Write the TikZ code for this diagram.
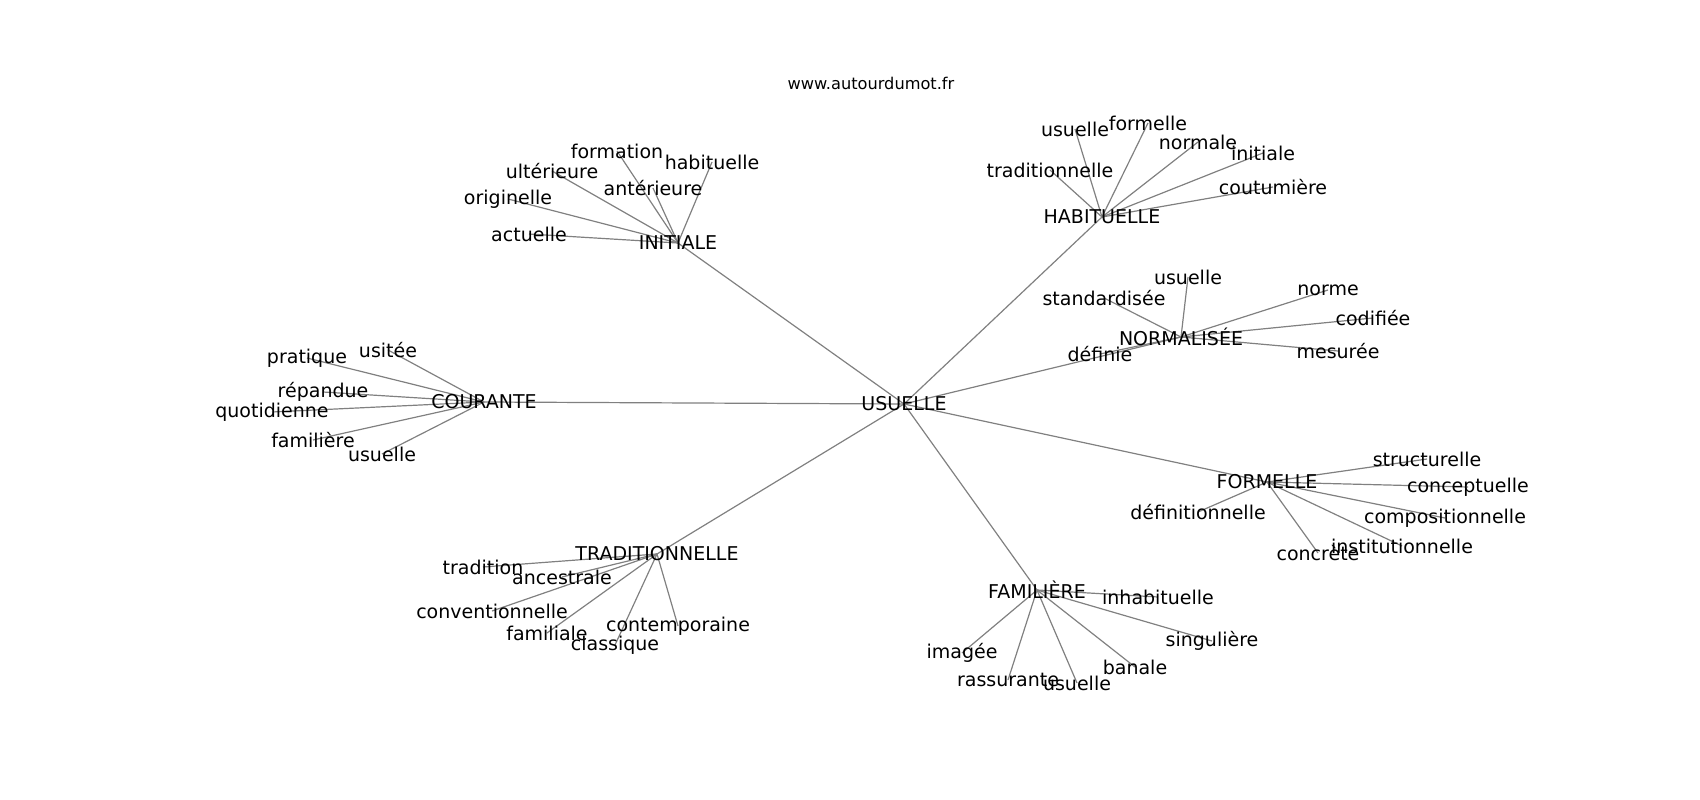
\documentclass[tikz,border=0pt]{standalone}
\usepackage{fontspec}
\setmainfont{DejaVu Sans}
\usetikzlibrary{backgrounds}
\tikzset{
  lbl/.style={inner sep=0pt, font=\fontsize{19}{21}\selectfont, text=black},
  ttl/.style={inner sep=0pt, font=\fontsize{16.2}{18}\selectfont, text=black},
  edge/.style={draw=gray, line width=1.2pt}
}
\begin{document}
\begin{tikzpicture}[x=1pt,y=-1pt]
\useasboundingbox (0,0) rectangle (1700,800);
% hubs
\node[lbl] (usuelle) at (904,404) {USUELLE};
\node[lbl] (initiale) at (678,243) {INITIALE};
\node[lbl] (habituelle) at (1102,217) {HABITUELLE};
\node[lbl] (normalisee) at (1181,337) {NORMALISÉE};
\node[lbl] (courante) at (484,402) {COURANTE};
\node[lbl] (formelle) at (1267,482) {FORMELLE};
\node[lbl] (traditionnelle) at (657,554) {TRADITIONNELLE};
\node[lbl] (familiere) at (1037,590) {FAMILIÈRE};
% INITIALE leaves
\node[lbl] (i1) at (617,151) {formation};
\node[lbl] (i2) at (712,162) {habituelle};
\node[lbl] (i3) at (552,171) {ultérieure};
\node[lbl] (i4) at (653,188) {antérieure};
\node[lbl] (i5) at (508,199) {originelle};
\node[lbl] (i6) at (529,234) {actuelle};
% HABITUELLE leaves
\node[lbl] (h1) at (1075,129) {usuelle};
\node[lbl] (h2) at (1148,123) {formelle};
\node[lbl] (h3) at (1198,142) {normale};
\node[lbl] (h4) at (1263,153) {initiale};
\node[lbl] (h5) at (1050,170) {traditionnelle};
\node[lbl] (h6) at (1273,187) {coutumière};
% NORMALISEE leaves
\node[lbl] (n1) at (1188,277) {usuelle};
\node[lbl] (n2) at (1104,298) {standardisée};
\node[lbl] (n3) at (1328,290) {norme};
\node[lbl] (n4) at (1373,318) {codifiée};
\node[lbl] (n5) at (1338,351) {mesurée};
\node[lbl] (n6) at (1100,354) {définie};
% COURANTE leaves
\node[lbl] (c1) at (388,350) {usitée};
\node[lbl] (c2) at (307,358) {pratique};
\node[lbl] (c3) at (323,392) {répandue};
\node[lbl] (c4) at (272,412) {quotidienne};
\node[lbl] (c5) at (313,440) {familière};
\node[lbl] (c6) at (382,454) {usuelle};
% TRADITIONNELLE leaves
\node[lbl] (t1) at (483,567) {tradition};
\node[lbl] (t2) at (562,577) {ancestrale};
\node[lbl] (t3) at (492,611) {conventionnelle};
\node[lbl] (t4) at (547,633) {familiale};
\node[lbl] (t5) at (678,626) {contemporaine};
\node[lbl] (t6) at (615,645) {classique};
% FAMILIERE leaves
\node[lbl] (f1) at (1158,597) {inhabituelle};
\node[lbl] (f2) at (1212,641) {singulière};
\node[lbl] (f3) at (1135,667) {banale};
\node[lbl] (f4) at (1077,683) {usuelle};
\node[lbl] (f5) at (1008,680) {rassurante};
\node[lbl] (f6) at (962,653) {imagée};
% FORMELLE leaves
\node[lbl] (o1) at (1427,459) {structurelle};
\node[lbl] (o2) at (1468,487) {conceptuelle};
\node[lbl] (o3) at (1445,518) {compositionnelle};
\node[lbl] (o4) at (1402,546) {institutionnelle};
\node[lbl] (o5) at (1318,553) {concrète};
\node[lbl] (o6) at (1198,512) {définitionnelle};
% title
\node[ttl] (title) at (871,83) {www.autourdumot.fr};
% edges, under the labels
\begin{scope}[on background layer]
\foreach \h in {initiale,habituelle,normalisee,courante,formelle,traditionnelle,familiere}
  \draw[edge] (usuelle.center) -- (\h.center);
\foreach \l in {i1,i2,i3,i4,i5,i6} \draw[edge] (initiale.center) -- (\l.center);
\foreach \l in {h1,h2,h3,h4,h5,h6} \draw[edge] (habituelle.center) -- (\l.center);
\foreach \l in {n1,n2,n3,n4,n5,n6} \draw[edge] (normalisee.center) -- (\l.center);
\foreach \l in {c1,c2,c3,c4,c5,c6} \draw[edge] (courante.center) -- (\l.center);
\foreach \l in {t1,t2,t3,t4,t5,t6} \draw[edge] (traditionnelle.center) -- (\l.center);
\foreach \l in {f1,f2,f3,f4,f5,f6} \draw[edge] (familiere.center) -- (\l.center);
\foreach \l in {o1,o2,o3,o4,o5,o6} \draw[edge] (formelle.center) -- (\l.center);
\end{scope}
\end{tikzpicture}
\end{document}
